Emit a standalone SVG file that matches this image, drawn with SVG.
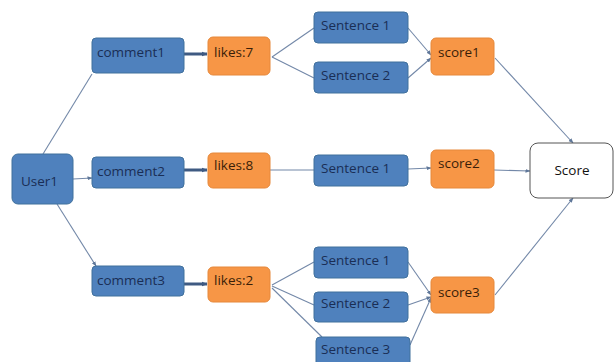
<svg xmlns="http://www.w3.org/2000/svg" width="614" height="362" viewBox="0 0 614 362">
<defs>
<style>
.b rect{fill:#4F81BD;stroke:#41719C;stroke-width:1}
.o rect{fill:#F79646;stroke:#E6883A;stroke-width:1}
.w rect{fill:#FFFFFF;stroke:#555555;stroke-width:1}
text{font-family:"Open Sans","Liberation Sans",sans-serif;font-size:13.5px}
.b text{fill:#1A2E55}
.o text{fill:#3A1E08}
.w text{fill:#111111}
.e line{stroke:#7388A8;stroke-width:1.1;fill:none}
.e line.t{stroke:#3F5A82;stroke-width:3}
</style>
<marker id="a" viewBox="0 0 10 10" refX="9" refY="5" markerWidth="5" markerHeight="5" orient="auto" markerUnits="userSpaceOnUse">
<path d="M0,1 L10,5 L0,9 Z" fill="#5F7799"/>
</marker>
<marker id="at" viewBox="0 0 10 10" refX="9" refY="5" markerWidth="6" markerHeight="6" orient="auto" markerUnits="userSpaceOnUse">
<path d="M0,1 L10,5 L0,9 Z" fill="#3F5A82"/>
</marker>
</defs>
<rect width="614" height="362" fill="#FFFFFF"/>
<g id="connectors" class="e">
<line x1="43" y1="154" x2="92" y2="74"/>
<line x1="73" y1="179" x2="92" y2="178" marker-end="url(#a)"/>
<line x1="57" y1="204" x2="96" y2="266" marker-end="url(#a)"/>
<line class="t" x1="184" y1="54" x2="207" y2="54" marker-end="url(#at)"/>
<line class="t" x1="184" y1="170" x2="207" y2="170" marker-end="url(#at)"/>
<line class="t" x1="184" y1="284" x2="207" y2="284" marker-end="url(#at)"/>
<line x1="272" y1="57" x2="314" y2="28"/>
<line x1="272" y1="57" x2="314" y2="78"/>
<line x1="408" y1="28" x2="431" y2="55" marker-end="url(#a)"/>
<line x1="408" y1="78" x2="431" y2="58" marker-end="url(#a)"/>
<line x1="495" y1="58" x2="573" y2="143" marker-end="url(#a)"/>
<line x1="270" y1="170" x2="314" y2="170"/>
<line x1="408" y1="169" x2="431" y2="168" marker-end="url(#a)"/>
<line x1="494" y1="170" x2="530" y2="171" marker-end="url(#a)"/>
<line x1="272" y1="285" x2="314" y2="262"/>
<line x1="272" y1="286" x2="314" y2="305"/>
<line x1="272" y1="288" x2="322" y2="337"/>
<line x1="408" y1="262" x2="431" y2="295" marker-end="url(#a)"/>
<line x1="408" y1="305" x2="431" y2="297" marker-end="url(#a)"/>
<line x1="410" y1="345" x2="431" y2="298" marker-end="url(#a)"/>
<line x1="495" y1="295" x2="573" y2="198" marker-end="url(#a)"/>
</g>
<g id="user1" class="b"><rect x="12" y="154" width="61" height="50" rx="6"/><text x="21" y="186">User1</text></g>
<g id="comment1" class="b"><rect x="92" y="38" width="92" height="35" rx="4"/><text x="97" y="57">comment1</text></g>
<g id="comment2" class="b"><rect x="92" y="157" width="92" height="31" rx="4"/><text x="97" y="176">comment2</text></g>
<g id="comment3" class="b"><rect x="92" y="266" width="92" height="30" rx="4"/><text x="97" y="285">comment3</text></g>
<g id="likes7" class="o"><rect x="208" y="37" width="62" height="38" rx="5"/><text x="214" y="57">likes:7</text></g>
<g id="likes8" class="o"><rect x="208" y="153" width="62" height="35" rx="5"/><text x="214" y="170">likes:8</text></g>
<g id="likes2" class="o"><rect x="208" y="267" width="62" height="35" rx="5"/><text x="214" y="285">likes:2</text></g>
<g id="s1a" class="b"><rect x="314" y="12" width="94" height="31" rx="4"/><text x="321" y="30">Sentence 1</text></g>
<g id="s2a" class="b"><rect x="314" y="62" width="94" height="31" rx="4"/><text x="321" y="80">Sentence 2</text></g>
<g id="s1b" class="b"><rect x="314" y="155" width="94" height="31" rx="4"/><text x="321" y="173">Sentence 1</text></g>
<g id="s1c" class="b"><rect x="314" y="247" width="94" height="31" rx="4"/><text x="321" y="265">Sentence 1</text></g>
<g id="s2c" class="b"><rect x="314" y="292" width="94" height="30" rx="4"/><text x="321" y="308">Sentence 2</text></g>
<g id="s3c" class="b"><rect x="316" y="337" width="94" height="32" rx="4"/><text x="321" y="354">Sentence 3</text></g>
<g id="score1" class="o"><rect x="431" y="38" width="63" height="37" rx="5"/><text x="438" y="57">score1</text></g>
<g id="score2" class="o"><rect x="431" y="150" width="63" height="38" rx="5"/><text x="438" y="168">score2</text></g>
<g id="score3" class="o"><rect x="431" y="277" width="63" height="36" rx="5"/><text x="438" y="297">score3</text></g>
<g id="score" class="w"><rect x="530" y="143" width="83" height="55" rx="8"/><text x="572" y="175" text-anchor="middle">Score</text></g>
</svg>
